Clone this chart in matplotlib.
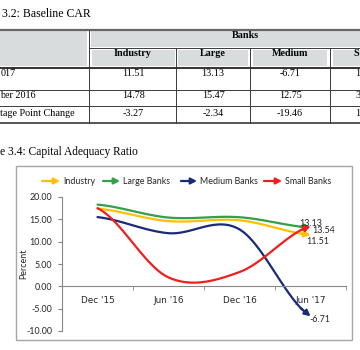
import numpy as np
import matplotlib
matplotlib.use("Agg")
import matplotlib.pyplot as plt
from matplotlib.patches import Rectangle

# table data (Table 3.2) - only the part visible in the crop
table_cols = ["Industry", "Large", "Medium", "S"]
row_labels = ["017", "ber 2016", "tage Point Change"]
row_june17 = ["11.51", "13.13", "-6.71", "1"]
row_dec16 = ["14.78", "15.47", "12.75", "3"]
row_change = ["-3.27", "-2.34", "-19.46", "1"]

# chart data (Figure 3.4)
periods = ["Dec '15", "Jun '16", "Dec '16", "Jun '17"]
industry = [17.4, 14.6, 14.78, 11.51]
large = [18.3, 15.4, 15.47, 13.13]
medium = [15.5, 11.9, 12.75, -6.71]
small = [17.5, 2.0, 3.2, 13.54]

series_names = ["Industry", "Large Banks", "Medium Banks", "Small Banks"]
colors = ["#FFC000", "#33A047", "#1B2A78", "#F21D1D"]

serif = "Liberation Serif"
sans = "Lato"


def smooth(y, n=30):
    # catmull-rom like excel's smoothed line
    y = np.asarray(y, float)
    p = np.concatenate([[y[0]], y, [y[-1]]])
    xs, ys = [], []
    for i in range(len(y) - 1):
        t = np.linspace(0, 1, n)
        p0, p1, p2, p3 = p[i], p[i + 1], p[i + 2], p[i + 3]
        yy = 0.5 * ((2 * p1) + (-p0 + p2) * t + (2 * p0 - 5 * p1 + 4 * p2 - p3) * t ** 2
                    + (-p0 + 3 * p1 - 3 * p2 + p3) * t ** 3)
        xs.append(i + t)
        ys.append(yy)
    return np.concatenate(xs), np.concatenate(ys)


fig = plt.figure(figsize=(3.6, 3.5), dpi=100)
bg = fig.add_axes([0, 0, 1, 1])
bg.set_xlim(0, 360)
bg.set_ylim(350, 0)
bg.axis("off")

# ---- table ----
gray = "#d9dcdc"
line_c = "#3a3a3a"
bg.add_patch(Rectangle((0, 31), 87, 35, color=gray, lw=0))
bg.add_patch(Rectangle((91, 31), 269, 15.5, color=gray, lw=0))
cells = [(92, 175), (178, 248), (253, 327), (333, 410)]
for a, b in cells:
    bg.add_patch(Rectangle((a, 50), b - a, 16, color=gray, lw=0))

bg.plot([0, 360], [29.5, 29.5], color="#666666", lw=1.6)
bg.plot([89, 360], [48, 48], color=line_c, lw=0.7)
bg.plot([0, 360], [67.5, 67.5], color="#222222", lw=1.3)
bg.plot([0, 360], [90, 90], color=line_c, lw=0.7)
bg.plot([0, 360], [106, 106], color=line_c, lw=0.7)
bg.plot([0, 360], [122.5, 122.5], color="#555555", lw=1.4)
bg.plot([89, 89], [29.5, 122.5], color=line_c, lw=0.7)
for xv in [176, 250, 330]:
    bg.plot([xv, xv], [48, 122.5], color=line_c, lw=0.7)

bg.text(2.5, 14, "3.2: Baseline CAR", ha="left", va="center",
        fontsize=8.5, family=serif)
bg.text(245, 35, "Banks", ha="center", va="center", fontsize=7.3,
        family=serif, fontweight="bold")
col_centers = [133, 213, 290]
for xc, name in zip(col_centers, table_cols[:3]):
    bg.text(xc, 54, name, ha="center", va="center", fontsize=7.3,
            family=serif, fontweight="bold")
bg.text(353, 54, table_cols[3], ha="left", va="center", fontsize=7.3,
        family=serif, fontweight="bold")

row_y = [73.5, 96, 113]
for yv, lab, vals in zip(row_y, row_labels, [row_june17, row_dec16, row_change]):
    bg.text(0.5, yv, lab, ha="left", va="center", fontsize=7.3, family=serif)
    for xc, v in zip(col_centers, vals[:3]):
        bg.text(xc, yv, v, ha="center", va="center", fontsize=7.3, family=serif)
    bg.text(355.5, yv, vals[3], ha="left", va="center", fontsize=7.3, family=serif)

bg.text(0.5, 151.5, "e 3.4: Capital Adequacy Ratio", ha="left", va="center",
        fontsize=8.3, family=serif)

# chart frame
bg.add_patch(Rectangle((16, 166), 336, 174, fill=False, ec="#a6a6a6", lw=1))

# legend drawn by hand (arrow lines)
leg_pos = [(42, 60), (103, 120), (181, 197), (264, 282)]
for (x0, x1), name, c in zip(leg_pos, series_names, colors):
    bg.annotate("", xy=(x1, 181), xytext=(x0, 181),
                arrowprops=dict(arrowstyle="-|>,head_length=0.35,head_width=0.18",
                                color=c, lw=1.6, shrinkA=0, shrinkB=0))
    bg.text(x1 + 3, 181, name, ha="left", va="center", fontsize=6.4,
            family=sans, color="#262626")

# ---- chart ----
ax = fig.add_axes([62 / 360, 19 / 350, 284 / 360, 134 / 350])
ax.patch.set_alpha(0)
x = np.arange(len(periods))
for vals, c in zip([industry, large, medium, small], colors):
    sx, sy = smooth(vals)
    ax.plot(sx[:-3], sy[:-3], color=c, lw=1.6, solid_capstyle="round")
    ax.annotate("", xy=(sx[-1], sy[-1]), xytext=(sx[-5], sy[-5]),
                arrowprops=dict(arrowstyle="-|>,head_length=0.35,head_width=0.18",
                                color=c, lw=1.6, shrinkA=0, shrinkB=0))

ax.set_xlim(-0.5, 3.5)
ax.set_ylim(-10, 20)
ax.set_yticks([20, 15, 10, 5, 0, -5, -10])
ax.set_yticklabels(["%.2f" % v for v in [20, 15, 10, 5, 0, -5, -10]])
ax.set_xticks(x)
ax.set_xticklabels(periods)
ax.set_xticks([-0.5, 0.5, 1.5, 2.5, 3.5], minor=True)
ax.tick_params(axis="x", which="major", length=0, pad=7)
ax.tick_params(axis="x", which="minor", length=3, color="#868686", direction="out")
ax.tick_params(axis="y", length=3, color="#868686", pad=4)
ax.tick_params(labelsize=6.4, labelcolor="#262626")
for lab in ax.get_xticklabels() + ax.get_yticklabels():
    lab.set_family(sans)
ax.spines["top"].set_visible(False)
ax.spines["right"].set_visible(False)
ax.spines["bottom"].set_position(("data", 0))
ax.spines["bottom"].set_color("#868686")
ax.spines["left"].set_color("#868686")

fig.text(24 / 360, 1 - 264 / 350, "Percent", rotation=90, ha="center", va="center",
         fontsize=6.4, family=sans, color="#262626")

# end labels
last = len(periods) - 1
offsets = [(-3, -4.5), (0, 3), (-1, -2), (1, -3.5)]
aligns = ["left", "center", "left", "left"]
for vals, (dx, dy), ha in zip([industry, large, medium, small], offsets, aligns):
    ax.annotate("%.2f" % vals[last], xy=(last, vals[last]), xytext=(dx, dy),
                textcoords="offset points", ha=ha, va="center", fontsize=6.4,
                family=sans, color="#262626")

fig.savefig("out.png", dpi=100)
